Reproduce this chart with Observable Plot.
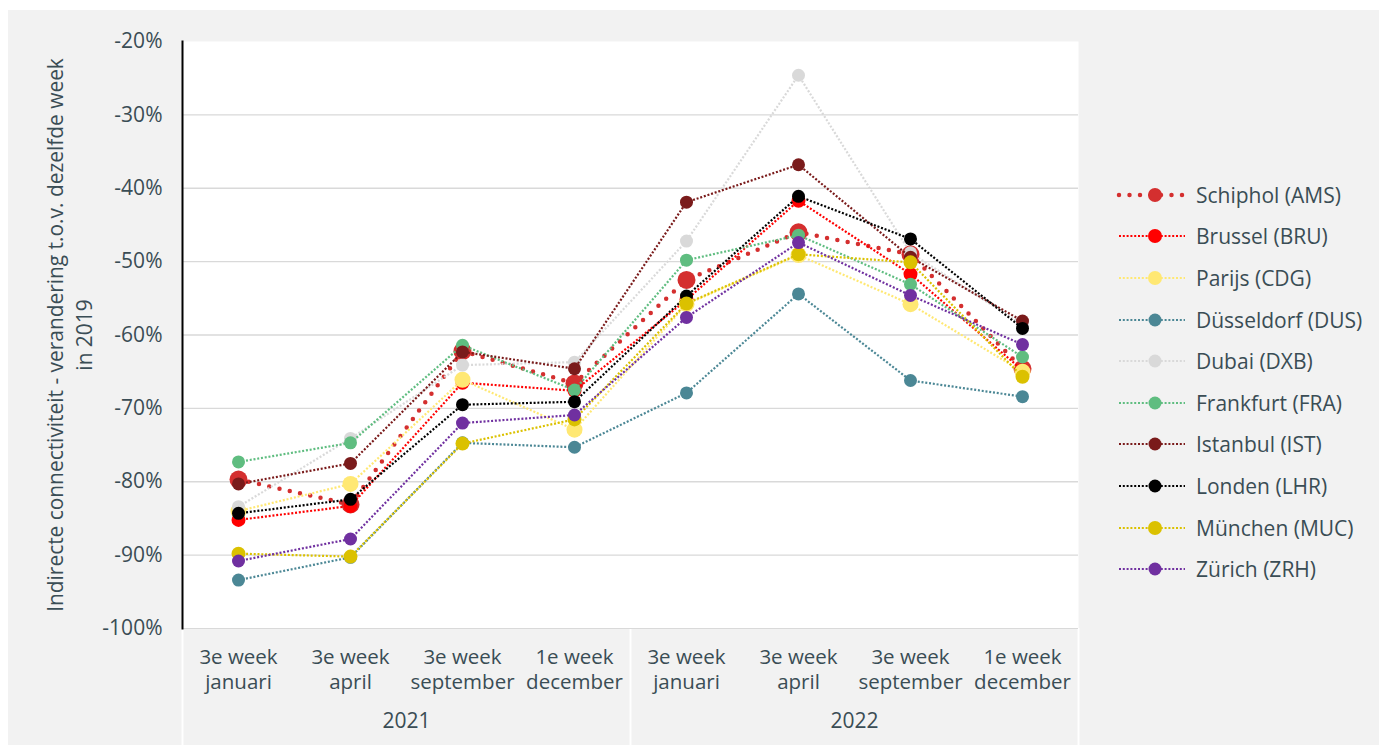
<!DOCTYPE html>
<html>
<head>
<meta charset="utf-8">
<script src="https://cdn.jsdelivr.net/npm/d3@7"></script>
<script src="https://cdn.jsdelivr.net/npm/@observablehq/plot@0.6"></script>
<style>
  html, body { margin: 0; padding: 0; background: #ffffff; width: 1379px; height: 745px; overflow: hidden; }
  #bg { position: absolute; left: 8px; top: 10px; width: 1371px; height: 735px; background: #f2f2f2; }
  #chart { position: absolute; left: 0; top: 0; }
  #legend { position: absolute; left: 1116px; top: 174px; font-family: "Open Sans", Lato, sans-serif; font-size: 21px; color: #3a4d55; }
  .item { display: flex; align-items: center; height: 41.6px; }
  .item svg { margin-right: 8px; }
</style>
</head>
<body>
<div id="bg"></div>
<div id="chart"></div>
<div id="legend"></div>
<script>
// ---- data ----
const categories = [
  "3e week\njanuari", "3e week\napril", "3e week\nseptember", "1e week\ndecember",
  "3e week\njanuari", "3e week\napril", "3e week\nseptember", "1e week\ndecember"
];
const years = ["2021", "2022"];
const yTicks = [-100, -90, -80, -70, -60, -50, -40, -30, -20];

const seriesNames = [
  "Schiphol (AMS)", "Brussel (BRU)", "Parijs (CDG)", "Düsseldorf (DUS)", "Dubai (DXB)",
  "Frankfurt (FRA)", "Istanbul (IST)", "Londen (LHR)", "München (MUC)", "Zürich (ZRH)"
];
const AMS = [-79.7, -83.1, -62.2, -66.6, -52.5, -46.0, -49.0, -64.6];
const BRU = [-85.2, -83.3, -66.5, -67.6, -55.2, -41.7, -51.7, -64.8];
const CDG = [-84.0, -80.3, -66.1, -72.9, -55.8, -49.1, -55.8, -65.0];
const DUS = [-93.4, -90.3, -74.7, -75.3, -67.9, -54.4, -66.2, -68.4];
const DXB = [-83.4, -74.1, -64.1, -63.7, -47.2, -24.6, -48.8, -58.6];
const FRA = [-77.3, -74.7, -61.4, -67.5, -49.8, -46.4, -53.1, -63.0];
const IST = [-80.3, -77.5, -62.3, -64.6, -41.9, -36.8, -49.4, -58.1];
const LHR = [-84.3, -82.4, -69.5, -69.1, -54.7, -41.1, -46.9, -59.1];
const MUC = [-89.8, -90.2, -74.8, -71.5, -55.7, -49.0, -50.1, -65.7];
const ZRH = [-90.8, -87.8, -72.0, -70.9, -57.6, -47.4, -54.6, -61.3];
const seriesValues = [AMS, BRU, CDG, DUS, DXB, FRA, IST, LHR, MUC, ZRH];

const colors = ["#d42f2f", "#ff0000", "#ffe873", "#4b8795", "#d9d9d9", "#5fbd80", "#7a1b1b", "#000000", "#dbc100", "#7030a0"];
const radii = [9, 7, 8, 6.5, 6.5, 6.5, 6.5, 6.5, 7, 6.5];

// ---- build table ----
const rows = [];
seriesNames.forEach((name, s) => {
  seriesValues[s].forEach((v, i) => rows.push({series: name, s, i, value: v}));
});

const textColor = "#3a4d55";
const font = "'Open Sans', Lato, sans-serif";
const marks = [
  Plot.frame({fill: "white"}),
  Plot.gridY(yTicks.filter(d => d > -100 && d < -20), {stroke: "#d9d9d9", strokeOpacity: 1, strokeWidth: 1.3}),
  Plot.ruleX([-0.5, 3.5, 7.5], {y1: -100, y2: -116.5, stroke: "white", strokeWidth: 2, clip: false}),
  Plot.ruleY([-100], {stroke: "#d9d9d9", strokeWidth: 1}),
  Plot.frame({anchor: "left", stroke: "black", strokeWidth: 2}),
  Plot.axisY({ticks: yTicks, tickFormat: d => `${d}%`, tickSize: 0, tickPadding: 20, label: null, fontSize: 21, fill: textColor}),
  Plot.axisX({ticks: d3.range(categories.length), tickFormat: i => categories[i], tickSize: 0, tickPadding: 18, label: null, fontSize: 20.5, lineHeight: 1.22, fill: textColor}),
  Plot.text(years, {x: (d, k) => k * 4 + 1.5, frameAnchor: "bottom", dy: 93, text: d => d, fontSize: 21, fill: textColor, lineAnchor: "middle"}),
  Plot.text(["Indirecte connectiviteit - verandering t.o.v. dezelfde week\nin 2019"], {frameAnchor: "left", dx: -114, rotate: -90, text: d => d, fontSize: 20.9, fill: textColor, lineHeight: 1.35, lineAnchor: "middle", textAnchor: "middle"})
];

seriesNames.forEach((name, s) => {
  const data = rows.filter(r => r.s === s);
  if (s === 0) {
    marks.push(Plot.line(data, {x: "i", y: "value", stroke: colors[s], strokeWidth: 4.5, strokeLinecap: "round", strokeDasharray: "0 10.5"}));
  } else {
    marks.push(Plot.line(data, {x: "i", y: "value", stroke: colors[s], strokeWidth: 2.2, strokeLinecap: "butt", strokeDasharray: "2 1.8"}));
  }
  marks.push(Plot.dot(data, {x: "i", y: "value", fill: colors[s], r: radii[s]}));
});

const chart = Plot.plot({
  width: 1379,
  height: 745,
  marginLeft: 182,
  marginRight: 301,
  marginTop: 41,
  marginBottom: 117,
  style: {background: "transparent", fontFamily: font, fontSize: "21px", color: textColor},
  x: {type: "linear", domain: [-0.5, 7.5]},
  y: {type: "linear", domain: [-100, -20]},
  marks
});
document.getElementById("chart").appendChild(chart);

// ---- legend ----
const legend = d3.select("#legend");
seriesNames.forEach((name, s) => {
  const item = legend.append("div").attr("class", "item");
  const svg = item.append("svg").attr("width", 72).attr("height", 20);
  const line = svg.append("line").attr("x1", 3).attr("x2", 69).attr("y1", 10).attr("y2", 10).attr("stroke", colors[s]);
  if (s === 0) line.attr("stroke-width", 4.5).attr("stroke-linecap", "round").attr("stroke-dasharray", "0 10.5");
  else line.attr("stroke-width", 2.2).attr("stroke-dasharray", "2 1.8");
  svg.append("circle").attr("cx", 39).attr("cy", 10).attr("r", Math.min(radii[s], 7)).attr("fill", colors[s]);
  item.append("span").text(name);
});
</script>
</body>
</html>
